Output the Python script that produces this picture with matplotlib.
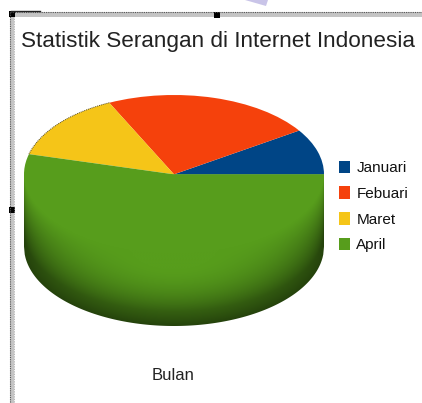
import matplotlib
matplotlib.use("Agg")
import matplotlib.pyplot as plt
from matplotlib.patches import Polygon, Rectangle
import numpy as np

plt.rcParams["font.family"] = ["Liberation Sans", "DejaVu Sans"]

W, H = 422, 403
title = "Statistik Serangan di Internet Indonesia"
months = ["Januari", "Febuari", "Maret", "April"]
values = [9.3, 22.8, 13.8, 54.1]
colors = ["#004586", "#f5410c", "#f5c518", "#579d1c"]
xlabel = "Bulan"

fig = plt.figure(figsize=(W / 100, H / 100), dpi=100)

# page layer in pixel coords
bg = fig.add_axes([0, 0, 1, 1])
bg.set_xlim(0, W)
bg.set_ylim(H, 0)
bg.axis("off")
bg.add_patch(Rectangle((10, 12), W - 10, 5, color="#c4c4c4", lw=0))
bg.add_patch(Rectangle((10, 12), 4, H - 12, color="#c4c4c4", lw=0))
bg.plot([10, W], [12, 12], color="#555555", lw=0.8, ls=(0, (1, 1)))
bg.plot([10, 10], [12, H], color="#555555", lw=0.8, ls=(0, (1, 1)))
bg.plot([14, 14], [17, H], color="#999999", lw=0.6, ls=(0, (1, 1)))
bg.plot([11, 40], [11, 11], color="#222222", lw=1.0)
for hx, hy in [(12, 14), (217, 15), (12, 210)]:
    bg.add_patch(Rectangle((hx - 3, hy - 3), 6, 6, color="black", lw=0))
bg.add_patch(Polygon([(245, 0), (268, 0), (266, 6)], color="#c9c4e8", lw=0))

# pie axes: x -1..1 is 24..324 px, y 1..-1 is 95..253 px
ry = 79
depth = 72 / ry
bottom = -1 - depth
ax = fig.add_axes([24 / W, 1 - 326 / H, 300 / W, (326 - 95) / H])
wedges, _ = ax.pie(values, colors=colors, startangle=0, radius=1, center=(0, 0))
ax.set_aspect("auto")
ax.set_xlim(-1, 1)
ax.set_ylim(bottom, 1)
for w in wedges:
    w.set_zorder(3)
    w.set_linewidth(0)

# dark dotted rim on the back left of the pie
a0 = 360 * sum(values[:2]) / sum(values)
a1 = 360 * sum(values[:3]) / sum(values)
theta = np.radians(np.linspace(a0, a1, 60))
ax.plot(np.cos(theta), np.sin(theta), color="#554a20", lw=0.7, ls=(0, (1, 1)), zorder=4, clip_on=False)

# green side wall, shaded towards its outer outline
xs = np.linspace(-1, 1, 400)
ys = np.linspace(0, bottom, 400)
X, Y = np.meshgrid(xs, ys)
top_edge = -np.sqrt(1 - X**2)
t = np.clip((top_edge - Y) / depth, 0, 1)
low = np.minimum(Y + depth, 0)
r = np.sqrt(X**2 + low**2)
d = np.clip((1 - r) / 0.7, 0, 1)
shade_r = 0.42 + 0.58 * d**0.85
fade = np.clip(t / 0.8, 0, 1)
shade = 1 - (1 - shade_r) * fade
base = np.array(matplotlib.colors.to_rgb(colors[3]))
img = np.clip(shade[..., None] * base, 0, 1)
im = ax.imshow(img, extent=(-1, 1, bottom, 0), aspect="auto", zorder=2, interpolation="bilinear")
outline = np.concatenate([
    np.column_stack([xs, -np.sqrt(1 - xs**2) - depth]),
    [[1, 0], [-1, 0]],
])
clip = Polygon(outline, transform=ax.transData, fill=False, lw=0)
ax.add_patch(clip)
im.set_clip_path(clip)

fig.text(218 / W, 1 - 41 / H, title, ha="center", va="center", fontsize=16.2, color="#222222")
fig.text(173 / W, 1 - 376 / H, xlabel, ha="center", va="center", fontsize=12, color="#222222")

fig.legend(wedges, months, loc="center left", bbox_to_anchor=(327 / W, 1 - 206.5 / H),
           frameon=False, fontsize=11, handlelength=0.72, handleheight=0.9,
           handletextpad=0.4, labelspacing=0.72, labelcolor="#111111", borderpad=0.3)

fig.savefig("out.png", dpi=100)
